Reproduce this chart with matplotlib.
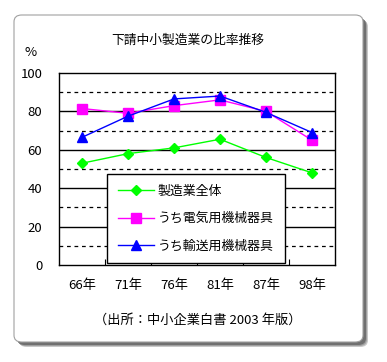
import matplotlib
matplotlib.use("Agg")
import matplotlib.pyplot as plt
from matplotlib.patches import FancyBboxPatch

plt.rcParams['font.family'] = ['Noto Sans CJK JP', 'DejaVu Sans']

categories = ["66年", "71年", "76年", "81年", "87年", "98年"]
total = [53, 58, 61, 65.5, 56, 48]
electric = [81.5, 79, 83, 86, 80, 65]
transport = [66.5, 77.5, 86.5, 88, 79.5, 69]
series_names = ["製造業全体", "うち電気用機械器具", "うち輸送用機械器具"]
title = "下請中小製造業の比率推移"
source = "（出所：中小企業白書 2003 年版）"

W, H = 387, 362
fig = plt.figure(figsize=(W / 100, H / 100), dpi=100)
fig.patch.set_facecolor("white")

def fx(px):
    return px / W

def fy(py):
    return 1 - py / H

# shadow + frame
for i, (off, col) in enumerate([(5, "#c8c8c8"), (4, "#a0a0a0"), (3, "#707070")]):
    sh = FancyBboxPatch((fx(14 + off), fy(342 + off)), fx(349), 327 / H,
                        boxstyle="round,pad=0,rounding_size=0.02",
                        transform=fig.transFigure, facecolor=col, edgecolor="none",
                        mutation_aspect=H / W, zorder=-20 + i)
    fig.patches.append(sh)
frame = FancyBboxPatch((fx(14), fy(342)), fx(349), 327 / H,
                       boxstyle="round,pad=0,rounding_size=0.02",
                       transform=fig.transFigure, facecolor="white", edgecolor="#a0a0a0",
                       linewidth=0.8, mutation_aspect=H / W, zorder=-10)
fig.patches.append(frame)

ax = fig.add_axes([fx(59), fy(265), fx(335) - fx(59), (265 - 73) / H])
ax.set_zorder(5)
ax.set_facecolor("white")
x = list(range(len(categories)))

ax.plot(x, total, color="#00ff00", marker="D", markersize=5, linewidth=1, label=series_names[0])
ax.plot(x, electric, color="#ff00ff", marker="s", markersize=6.5, linewidth=1, label=series_names[1])
ax.plot(x, transport, color="#0000ff", marker="^", markersize=7, linewidth=1, label=series_names[2])

ax.set_xlim(-0.5, len(categories) - 0.5)
ax.set_ylim(0, 100)
ax.set_yticks([0, 20, 40, 60, 80, 100])
for v in [20, 40, 60, 80]:
    ax.axhline(v, color="black", linewidth=1, zorder=0.5)
for v in [10, 30, 50, 70, 90]:
    ax.axhline(v, color="black", linewidth=0.9, linestyle=(0, (3, 3)), zorder=0.5)

ax.set_xticks([i + 0.5 for i in range(len(categories) - 1)])
ax.set_xticklabels([])
ax.tick_params(axis="x", which="major", direction="in", length=4, width=0.8)
ax.set_xticks(x, minor=True)
ax.set_xticklabels(categories, minor=True)
ax.tick_params(axis="x", which="minor", length=0, pad=10, labelsize=9.5)
ax.tick_params(axis="y", length=0, pad=12, labelsize=9.5)
for s in ax.spines.values():
    s.set_linewidth(1)

fig.text(fx(188), fy(40), title, ha="center", va="center", fontsize=9.2)
fig.text(fx(31), fy(53), "%", ha="center", va="center", fontsize=9.5)
fig.text(fx(198), fy(320), source, ha="center", va="center", fontsize=9.5)

leg = ax.legend(loc="upper left", bbox_to_anchor=(fx(107), fy(174)),
                bbox_transform=fig.transFigure, fontsize=9.3, frameon=True,
                fancybox=False, edgecolor="black", framealpha=1,
                handlelength=2.8, labelspacing=1.1, borderpad=0.85,
                handletextpad=0.3, borderaxespad=0)
leg.get_frame().set_linewidth(1)

fig.savefig("out.png", dpi=100, facecolor="white")
